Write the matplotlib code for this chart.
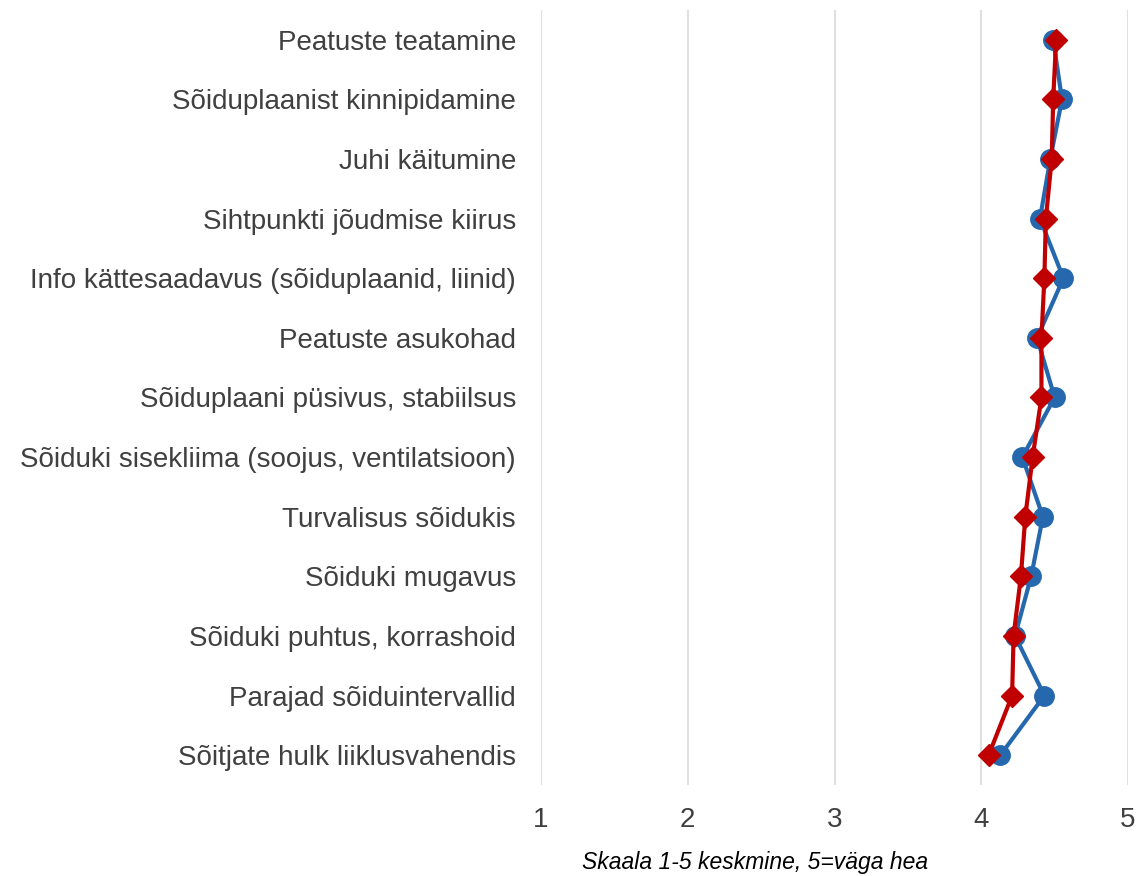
import matplotlib.pyplot as plt

plt.rcParams['font.family'] = ['Liberation Sans', 'DejaVu Sans']

# Kategooriad ülevalt alla
kategooriad = [
    "Peatuste teatamine",
    "Sõiduplaanist kinnipidamine",
    "Juhi käitumine",
    "Sihtpunkti jõudmise kiirus",
    "Info kättesaadavus (sõiduplaanid, liinid)",
    "Peatuste asukohad",
    "Sõiduplaani püsivus, stabiilsus",
    "Sõiduki sisekliima (soojus, ventilatsioon)",
    "Turvalisus sõidukis",
    "Sõiduki mugavus",
    "Sõiduki puhtus, korrashoid",
    "Parajad sõiduintervallid",
    "Sõitjate hulk liiklusvahendis",
]
sinine = [4.49, 4.55, 4.47, 4.40, 4.56, 4.38, 4.50, 4.28, 4.42, 4.34, 4.23, 4.43, 4.13]
punane = [4.51, 4.49, 4.48, 4.44, 4.43, 4.41, 4.41, 4.35, 4.30, 4.27, 4.22, 4.21, 4.05]
x_tikid = [1, 2, 3, 4, 5]

fig = plt.figure(figsize=(11.4, 8.76), dpi=100)
ax = fig.add_axes([0.4746, 0.1039, 0.5149, 0.8847])

y = list(range(len(kategooriad)))
ax.plot(sinine, y, color='#2668AE', linewidth=3, marker='o', markersize=14, zorder=3)
ax.plot(punane, y, color='#C00000', linewidth=3, marker='D', markersize=11, zorder=4)

ax.set_xlim(1, 5)
ax.set_ylim(len(kategooriad) - 0.5, -0.5)
ax.set_xticks(x_tikid)
ax.set_yticks(y)
ax.set_yticklabels(kategooriad)
ax.grid(axis='x', color='#E0E0E0', linewidth=1.5)
ax.set_axisbelow(True)
for s in ax.spines.values():
    s.set_visible(False)
ax.tick_params(axis='both', length=0, labelsize=20, colors='#404040')
ax.tick_params(axis='x', pad=16)
ax.tick_params(axis='y', pad=18)

fig.text(0.662, 0.002, "Skaala 1-5 keskmine, 5=väga hea", fontsize=16.5, style='italic',
         ha='center', va='bottom', color='#000000')

fig.savefig('out.png', dpi=100)
